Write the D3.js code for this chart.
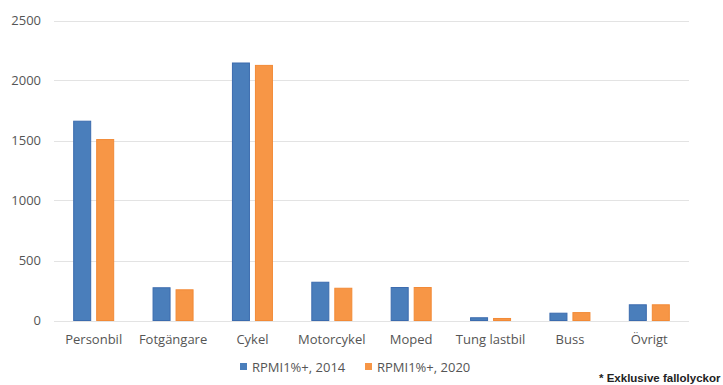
<!DOCTYPE html>
<html>
<head>
<meta charset="utf-8">
<script src="https://cdn.jsdelivr.net/npm/d3@7"></script>
<style>
  html, body { margin: 0; padding: 0; background: #fff; }
  svg { display: block; }
</style>
</head>
<body>
<svg id="chart" width="723" height="385"></svg>
<script>
// Trafikskadade per trafikantkategori, RPMI1%+
const categories = ["Personbil", "Fotgängare", "Cykel", "Motorcykel", "Moped", "Tung lastbil", "Buss", "Övrigt"];
const seriesNames = ["RPMI1%+, 2014", "RPMI1%+, 2020"];
const values2014 = [1665, 277, 2150, 323, 279, 27, 65, 135];
const values2020 = [1512, 260, 2130, 273, 279, 21, 70, 135];
const yTicks = [0, 500, 1000, 1500, 2000, 2500];
const footnote = "* Exklusive fallolyckor";

const fills = ["#4A7EBB", "#F79646"];
const strokes = ["#3B6BAE", "#F28A36"];
const labelFont = "Open Sans, Noto Sans, sans-serif";
const labelSize = 13;

const svg = d3.select("#chart");
const margin = { left: 54, right: 34, top: 20, bottom: 64 };
const width = 723, height = 385;

const x = d3.scaleBand()
  .domain(categories)
  .range([margin.left, width - margin.right])
  .paddingInner(0)
  .paddingOuter(0);

const y = d3.scaleLinear()
  .domain([0, 2500])
  .range([320.5, 20.5]);

const xInner = d3.scaleBand()
  .domain(seriesNames)
  .range([0, x.bandwidth()])
  .paddingInner(0.217)
  .paddingOuter(0.834);

// gridlines
const grid = svg.append("g");
grid.selectAll("line")
  .data(yTicks)
  .join("line")
  .attr("x1", margin.left)
  .attr("x2", width - margin.right)
  .attr("y1", d => Math.round(y(d)) + 0.5)
  .attr("y2", d => Math.round(y(d)) + 0.5)
  .attr("stroke", "#E3E3E3")
  .attr("stroke-width", 1.2);

// y axis labels
const yAxis = d3.axisLeft(y).tickValues(yTicks).tickFormat(d3.format("d")).tickSize(0).tickPadding(13);
svg.append("g")
  .attr("transform", `translate(${margin.left},0)`)
  .call(yAxis)
  .call(g => g.select(".domain").remove())
  .call(g => g.selectAll("text")
    .attr("font-family", labelFont)
    .attr("font-size", labelSize)
    .attr("fill", "#555"));

// bars
const data = categories.map((c, i) => ({ cat: c, vals: [values2014[i], values2020[i]] }));
const groups = svg.append("g").selectAll("g")
  .data(data)
  .join("g")
  .attr("transform", d => `translate(${x(d.cat)},0)`);

groups.selectAll("rect")
  .data(d => d.vals.map((v, k) => ({ v, k })))
  .join("rect")
  .attr("x", d => xInner(seriesNames[d.k]) + 0.5)
  .attr("width", xInner.bandwidth() - 1)
  .attr("y", d => y(d.v) + 0.5)
  .attr("height", d => y(0) - y(d.v) - 0.5)
  .attr("fill", d => fills[d.k])
  .attr("stroke", d => strokes[d.k])
  .attr("stroke-width", 1);

// category axis
const xAxis = d3.axisBottom(x).tickSize(0).tickPadding(14);
svg.append("g")
  .attr("transform", `translate(0,${y(0)})`)
  .call(xAxis)
  .call(g => g.select(".domain").remove())
  .call(g => g.selectAll("text")
    .attr("font-family", labelFont)
    .attr("font-size", labelSize)
    .attr("fill", "#555"));

// legend
const legendX = [240, 365];
const legend = svg.append("g");
seriesNames.forEach((name, k) => {
  legend.append("rect")
    .attr("x", legendX[k])
    .attr("y", 363)
    .attr("width", 7)
    .attr("height", 7)
    .attr("fill", fills[k]);
  legend.append("text")
    .attr("x", legendX[k] + 12)
    .attr("y", 371.5)
    .attr("font-family", labelFont)
    .attr("font-size", labelSize)
    .attr("fill", "#555")
    .text(name);
});

// footnote
svg.append("text")
  .attr("x", 599)
  .attr("y", 382)
  .attr("font-family", "Liberation Sans, Arial, sans-serif")
  .attr("font-size", 11.5)
  .attr("font-weight", "bold")
  .attr("fill", "#222")
  .text(footnote);
</script>
</body>
</html>
